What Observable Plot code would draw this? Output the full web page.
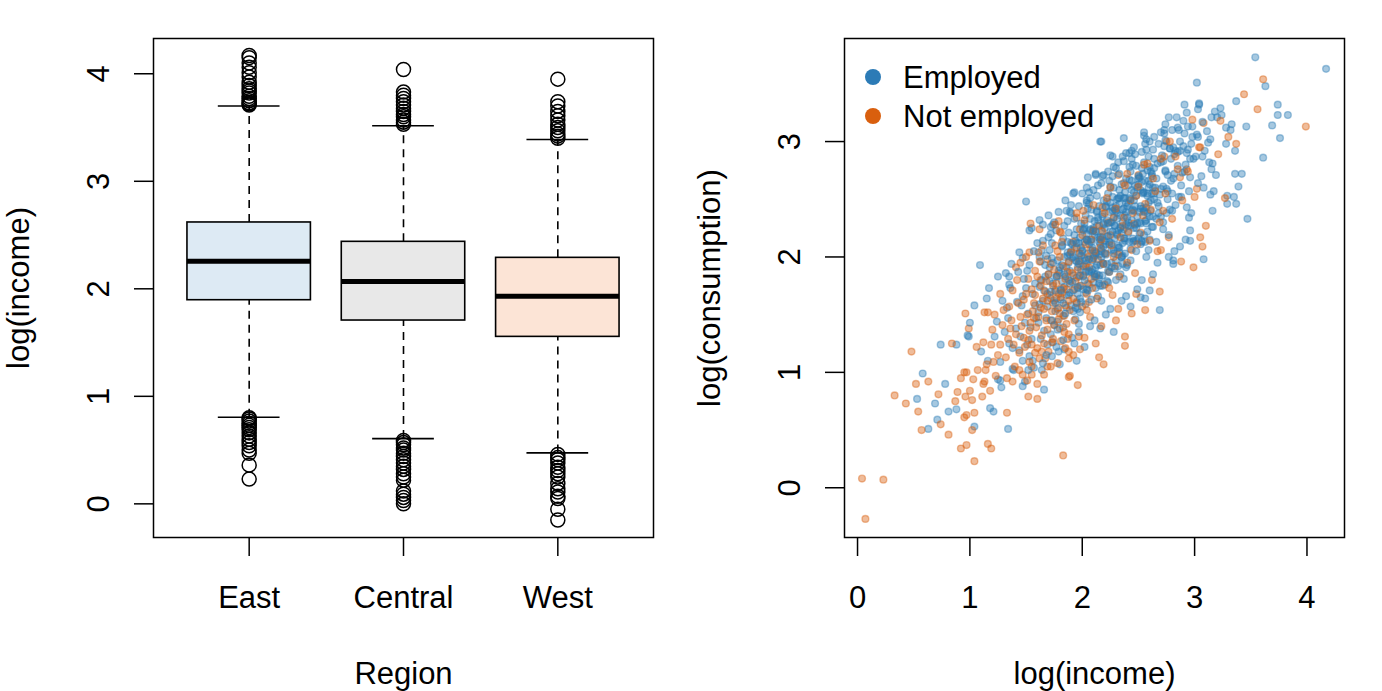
<!DOCTYPE html>
<html><head><meta charset="utf-8">
<script src="https://cdn.jsdelivr.net/npm/d3@7"></script>
<script src="https://cdn.jsdelivr.net/npm/@observablehq/plot@0.6"></script>
<style>
body{margin:0;background:#fff;}
#wrap{position:relative;width:1382px;height:691px;font-family:"Liberation Sans",Arial,Helvetica,sans-serif;background:#fff;overflow:hidden}
#left,#right{position:absolute;top:0;}
#left{left:0}#right{left:691px}
.leg{position:absolute;font-size:31px;line-height:31px;white-space:nowrap;color:#000}
.dot{position:absolute;width:16px;height:16px;border-radius:50%}
</style></head><body>
<div id="wrap"><div id="left"></div><div id="right"></div></div>
<script>
// ---------- Box plot data ----------
const regions = ["East", "Central", "West"];
const boxFills = ["#DDEAF4", "#E8E8E8", "#FCE4D6"];
const q1 = [1.894, 1.705, 1.553];
const medians = [2.257, 2.068, 1.931];
const q3 = [2.617, 2.437, 2.288];
const whiskerLow = [0.806, 0.607, 0.474];
const whiskerHigh = [3.700, 3.516, 3.389];
const outliersEast = [3.71,3.72,3.73,3.75,3.77,3.79,3.82,3.84,3.86,3.89,3.92,3.97,4.01,4.06,4.10,4.15,4.17,
  0.80,0.79,0.77,0.75,0.73,0.71,0.69,0.66,0.63,0.60,0.57,0.54,0.50,0.47,0.36,0.23];
const outliersCentral = [3.53,3.55,3.57,3.60,3.62,3.65,3.68,3.71,3.74,3.77,3.80,3.83,4.04,
  0.59,0.57,0.55,0.52,0.50,0.47,0.44,0.41,0.38,0.35,0.32,0.28,0.25,0.22,0.12,0.09,0.06,0.03,0.00];
const outliersWest = [3.40,3.42,3.44,3.47,3.50,3.53,3.57,3.61,3.65,3.70,3.74,3.95,
  0.46,0.43,0.41,0.38,0.34,0.31,0.28,0.25,0.19,0.14,0.11,0.07,0.05,-0.05,-0.15];
const boxYTicks = [0, 1, 2, 3, 4];

// ---------- Scatter data ----------
const groups = ["Employed", "Not employed"];
const groupColors = ["#2C7BB6", "#D95F0E"];
const scatterXTicks = [0, 1, 2, 3, 4];
const scatterYTicks = [0, 1, 2, 3];

const employed = [
[0.58,0.99],[0.53,0.77],[0.63,0.51],[0.71,0.59],[0.69,0.73],[0.78,0.90],[0.81,0.66],[0.88,0.68],[0.74,1.24],[0.88,1.24],
[1.04,0.53],[1.18,0.69],[1.21,0.66],[1.34,0.51],[1.66,0.85],[1.04,1.58],[0.99,1.31],[1.15,1.64],[1.10,1.18],[1.16,1.10],
[1.27,0.93],[1.28,0.87],[1.25,0.94],[1.35,1.25],[1.38,1.03],[1.47,0.88],[1.49,0.92],
[1.09,1.93],[1.50,2.48],[1.44,2.04],[1.25,1.83],[1.32,1.86],[1.35,1.83],[1.37,1.94],[1.53,2.23],[1.62,2.32],[1.70,2.36],
[1.79,2.39],[1.89,2.39],[1.92,2.55],[2.04,2.49],[2.06,2.46],[2.16,3.00],[2.12,2.72],[1.74,2.28],[1.55,2.25],[1.65,2.14],
[1.72,2.20],[1.71,2.06],[1.62,2.00],[1.51,1.88],[1.35,1.76],[1.17,1.73],
[3.54,3.73],[4.17,3.63],[3.02,3.51],[3.63,3.48],[2.91,3.32],[3.04,3.32],[3.03,3.28],[3.23,3.29],[3.24,3.23],[3.37,3.35],
[3.15,3.21],[3.20,3.21],[3.33,3.15],[3.46,3.13],[3.74,3.32],[3.74,3.23],[3.83,3.23],[3.69,3.14],[3.76,3.03],[3.61,2.86],
[3.47,2.33],[3.42,2.72],[3.36,2.72],[3.39,2.61],[3.35,2.52],[3.37,2.46],[3.29,2.46],[3.36,2.92],[3.28,2.98],[3.28,3.12],
[3.32,3.10],[3.11,3.09],[3.14,3.02],[2.98,3.04],[3.03,3.04],[2.86,3.10],[2.80,3.10],[2.73,3.07],[2.55,3.08],[2.55,3.05],
[2.37,3.03],[2.17,3.00],[2.27,2.87],[2.36,2.87],[2.44,2.92],[2.57,2.93],[2.81,2.95],[2.87,2.92],[2.93,2.90],[2.96,2.85],
[3.07,2.87],[3.16,2.81],[3.19,2.71],[2.12,2.71],[2.23,2.74],[2.42,2.78],[2.64,2.85],[2.60,2.78],[2.72,2.83],[3.29,2.53],
[3.14,2.54],[3.08,2.60],[3.16,2.40],[3.08,1.98],[2.87,2.09],[2.81,1.94],[2.96,2.23],[2.95,2.34],[2.93,2.43],
[1.93,2.56],[2.69,1.54],[2.28,1.35],[2.96,2.14],[2.81,1.97],[2.56,1.64],[2.52,1.65],[2.60,1.71],[2.43,1.57],[2.16,1.38],
[2.02,1.22],[1.95,1.10],[1.00,1.43],[0.98,1.32],
[1.56,1.10],[1.64,1.02],[1.73,1.14],[1.84,1.20],[1.91,1.30],[1.47,1.10],[1.80,1.07],[1.69,1.24],
[1.22,1.31],[1.27,1.09],[1.34,1.47],[1.29,1.62],[1.38,1.21],[1.24,1.44],[1.36,1.73],[1.31,1.35],[1.39,1.02],[1.33,1.56],
[1.41,1.38],[1.47,1.66],[1.44,1.19],[1.52,1.51],[1.58,1.77],[1.43,1.87],[1.55,1.29],[1.49,1.43],[1.57,1.04],[1.46,1.58],
[1.53,1.93],[1.59,1.47],[1.42,1.61],[1.51,1.24],[1.56,1.68],[1.48,1.81],[1.54,1.39],[1.45,1.31],[1.58,1.58],[1.50,1.73],
[1.53,1.14],[1.47,1.99],
[1.61,1.52],[1.67,1.83],[1.63,1.29],[1.72,1.64],[1.78,1.97],[1.64,2.06],[1.75,1.41],[1.69,1.57],[1.77,1.22],[1.62,1.74],
[1.73,2.12],[1.79,1.68],[1.66,1.36],[1.71,1.91],[1.76,1.53],[1.68,2.01],[1.74,1.77],[1.65,1.62],[1.78,1.44],[1.70,1.85],
[1.63,1.96],[1.77,2.23],[1.72,1.33],[1.66,1.71],[1.79,1.88],[1.61,1.43],[1.75,1.62],[1.68,1.47],[1.73,1.99],[1.64,1.80],
[1.76,1.71],[1.70,2.17],[1.62,1.59],[1.78,1.55],[1.67,1.93],[1.74,1.26],[1.69,1.68],[1.71,1.79],[1.65,2.28],[1.77,1.83],
[1.81,1.72],[1.87,2.04],[1.83,1.49],[1.92,1.84],[1.98,2.17],[1.84,2.27],[1.95,1.61],[1.89,1.77],[1.97,1.42],[1.82,1.93],
[1.93,2.33],[1.99,1.89],[1.86,1.56],[1.91,2.11],[1.96,1.73],[1.88,2.21],[1.94,1.97],[1.85,1.83],[1.98,1.64],[1.90,2.05],
[1.83,2.16],[1.97,2.44],[1.92,1.53],[1.86,1.91],[1.99,2.08],[1.81,1.63],[1.95,1.82],[1.88,1.67],[1.93,2.19],[1.84,2.00],
[1.96,1.91],[1.90,2.38],[1.82,1.79],[1.98,1.75],[1.87,2.13],[1.94,1.46],[1.89,1.88],[1.91,1.99],[1.85,2.49],[1.97,2.03],
[1.80,1.86],[1.86,1.67],[1.93,2.07],[1.99,2.29],[1.84,1.74],[1.90,1.58],[1.95,2.24],[1.88,1.95],[1.82,2.09],[1.96,1.55],
[1.92,1.71],[1.87,2.31],[1.98,1.97],[1.83,1.39],[1.94,2.14],[1.89,2.02],
[2.01,1.92],[2.07,2.24],[2.03,1.69],[2.12,2.04],[2.18,2.37],[2.04,2.47],[2.15,1.81],[2.09,1.97],[2.17,1.62],[2.02,2.13],
[2.13,2.53],[2.19,2.09],[2.06,1.76],[2.11,2.31],[2.16,1.93],[2.08,2.41],[2.14,2.17],[2.05,2.03],[2.18,1.84],[2.10,2.25],
[2.03,2.36],[2.17,2.64],[2.12,1.73],[2.06,2.11],[2.19,2.28],[2.01,1.83],[2.15,2.02],[2.08,1.87],[2.13,2.39],[2.04,2.20],
[2.16,2.11],[2.10,2.58],[2.02,1.99],[2.18,1.95],[2.07,2.33],[2.14,1.66],[2.09,2.08],[2.11,2.19],[2.05,2.69],[2.17,2.23],
[2.00,2.06],[2.06,1.87],[2.13,2.27],[2.19,2.49],[2.04,1.94],[2.10,1.78],[2.15,2.44],[2.08,2.15],[2.02,2.29],[2.16,1.75],
[2.12,1.91],[2.07,2.51],[2.18,2.17],[2.03,1.59],[2.14,2.34],[2.09,2.22],[2.11,2.01],[2.05,2.42],[2.17,2.05],[2.01,2.24],
[2.13,1.85],[2.19,2.71],[2.06,2.56],[2.15,2.13],
[2.21,2.11],[2.27,2.43],[2.23,1.88],[2.32,2.23],[2.38,2.56],[2.24,2.66],[2.35,2.00],[2.29,2.16],[2.37,1.81],[2.22,2.32],
[2.33,2.72],[2.39,2.28],[2.26,1.95],[2.31,2.50],[2.36,2.12],[2.28,2.60],[2.34,2.36],[2.25,2.22],[2.38,2.03],[2.30,2.44],
[2.23,2.55],[2.37,2.83],[2.32,1.92],[2.26,2.30],[2.39,2.47],[2.21,2.02],[2.35,2.21],[2.28,2.06],[2.33,2.58],[2.24,2.39],
[2.36,2.30],[2.30,2.77],[2.22,2.18],[2.38,2.14],[2.27,2.52],[2.34,1.85],[2.29,2.27],[2.31,2.38],[2.25,2.88],[2.37,2.42],
[2.20,2.25],[2.26,2.06],[2.33,2.46],[2.39,2.68],[2.24,2.13],[2.30,1.97],[2.35,2.63],[2.28,2.34],[2.22,2.48],[2.36,1.94],
[2.32,2.10],[2.27,2.70],[2.38,2.36],[2.23,1.78],[2.34,2.53],[2.29,2.41],[2.31,2.20],[2.25,2.61],[2.37,2.24],[2.21,2.43],
[2.33,2.04],[2.39,2.90],
[2.41,2.30],[2.47,2.62],[2.43,2.07],[2.52,2.42],[2.58,2.75],[2.44,2.85],[2.55,2.19],[2.49,2.35],[2.57,2.00],[2.42,2.51],
[2.53,2.91],[2.59,2.47],[2.46,2.14],[2.51,2.69],[2.56,2.31],[2.48,2.79],[2.54,2.55],[2.45,2.41],[2.58,2.22],[2.50,2.63],
[2.43,2.74],[2.57,3.02],[2.52,2.11],[2.46,2.49],[2.59,2.66],[2.41,2.21],[2.55,2.40],[2.48,2.25],[2.53,2.77],[2.44,2.58],
[2.40,2.44],[2.46,2.25],[2.53,2.65],[2.59,2.87],[2.44,2.32],[2.50,2.16],[2.55,2.82],[2.48,2.53],[2.42,2.67],[2.56,2.13],
[2.52,2.29],[2.47,2.89],[2.58,2.55],[2.43,1.97],[2.54,2.72],[2.49,2.60],[2.51,2.39],[2.45,2.80],[2.57,2.43],[2.41,2.62],
[2.61,2.49],[2.67,2.81],[2.63,2.26],[2.72,2.61],[2.78,2.94],[2.64,3.04],[2.75,2.38],[2.69,2.54],[2.77,2.19],[2.62,2.70],
[2.73,3.10],[2.79,2.66],[2.66,2.33],[2.71,2.88],[2.76,2.50],[2.68,2.98],[2.74,2.74],[2.65,2.60],[2.78,2.41],[2.70,2.82],
[2.63,2.93],[2.77,3.21],[2.72,2.30],[2.66,2.68],[2.79,2.85],[2.61,2.40],[2.75,2.59],[2.68,2.44],[2.73,2.96],[2.64,2.77],
[2.60,2.63],[2.70,2.35],[2.76,2.71],[2.62,2.55],[2.74,3.01],[2.67,2.47],
[2.81,2.68],[2.87,3.00],[2.83,2.45],[2.92,2.80],[2.98,3.13],[2.84,3.21],[2.95,2.57],[2.89,2.73],[2.97,2.38],[2.82,2.89],
[2.93,3.25],[2.99,2.85],[2.86,2.52],[2.91,3.07],[2.96,2.69],[2.88,2.62],[2.94,2.93],[2.85,2.79],[2.80,2.55],[2.90,2.96],
[2.97,2.98],[2.83,2.92],
[3.01,2.87],[3.07,3.17],[3.03,2.64],[3.12,2.99],[3.18,3.26],[3.04,3.33],[3.15,2.76],[3.09,2.92],[3.17,2.57],[3.02,3.06],
[3.13,2.82],[3.06,2.70],
[1.72,1.70],[1.73,1.45],[1.74,1.95],[1.76,1.60],[1.77,1.83],[1.78,1.37],[1.80,1.91],[1.81,1.71],[1.82,2.10],[1.83,1.60],
[1.84,1.85],[1.85,1.51],[1.87,2.01],[1.88,1.80],[1.89,1.69],[1.90,2.12],[1.91,1.78],[1.92,2.00],[1.94,1.56],[1.95,2.12],
[1.96,1.74],[1.97,1.94],[1.98,1.52],[1.99,2.01],[2.01,1.72],[2.02,2.25],[2.03,1.87],[2.04,2.15],[2.05,1.71],[2.06,1.98],
[2.08,2.13],[2.09,1.89],[2.10,2.23],[2.11,1.83],[2.12,2.03],[2.13,2.40],[2.15,1.77],[2.16,2.15],[2.17,2.00],[2.18,2.35],
[2.19,1.94],[2.20,2.14],[2.22,1.79],[2.23,2.29],[2.24,2.11],[2.25,2.47],[2.26,1.91],[2.27,2.22],[2.29,1.90],[2.30,2.40],
[2.31,2.19],[2.32,2.08],[2.33,2.51],[2.34,2.26],[2.36,2.01],[2.37,2.51],[2.38,2.16],[2.39,2.39],[2.40,1.93],[2.41,2.46],
[2.43,2.27],[2.44,2.66],[2.45,2.16],[2.46,2.40],[2.47,2.44],[2.48,2.14],[2.50,2.68],[2.51,2.30],[2.52,2.58],[2.53,2.14],
[2.54,2.42],[2.55,2.56],[2.57,2.32],[2.58,2.38],[2.59,2.60],[2.60,2.15],[2.62,2.72],[2.63,2.35],[2.64,2.55],[2.66,2.13],
[2.68,2.38],[2.70,2.59],[2.72,2.24],[2.74,2.75],[2.76,2.57],[2.78,2.94],[2.80,2.40],[2.82,2.72],[2.85,2.91],[2.88,2.52],
[2.91,2.74],[2.94,3.13],
[1.95,1.96],[1.96,1.68],[1.97,2.12],[1.98,1.84],[1.99,1.61],[2.00,2.05],[2.01,2.23],[2.02,1.80],[2.03,1.97],[2.04,1.72],
[2.05,2.14],[2.06,1.88],[2.07,2.23],[2.08,1.63],[2.09,2.06],[2.10,1.99],[2.11,1.85],[2.12,2.22],[2.13,1.93],[2.14,2.32],
[2.15,1.84],[2.16,2.17],[2.17,2.07],[2.18,1.75],[2.19,2.29],[2.20,2.03],[2.21,2.44],[2.22,1.94],[2.23,2.18],[2.24,1.87],
[2.25,2.30],[2.26,2.12],[2.27,2.40],[2.28,2.03],[2.29,2.27],[2.30,1.80],[2.31,2.33],[2.32,2.51],[2.33,2.08],[2.34,2.25],
[2.35,2.00],[2.36,2.41],[2.37,2.16],[2.38,2.51],[2.39,1.91],[2.40,2.34],[2.41,2.27],[2.42,2.13],[2.43,2.50],[2.44,2.40],
[2.45,2.13],[2.46,2.56],[2.47,2.28],[2.48,2.05],[2.49,2.29],[2.50,2.70],[2.51,2.20],[2.52,2.44],[2.53,2.13],[2.54,2.56],
[2.55,2.39],[2.56,2.66],[2.57,2.29],[2.58,2.53],[2.59,2.06],[2.60,2.35],[2.61,2.74],[2.62,2.26],[2.63,2.60],[2.64,2.50],
[1.52,1.02],[1.60,2.12],[1.68,1.15],[1.75,2.30],[1.83,1.28],[1.90,2.45],[1.97,1.35],[2.04,2.60],[2.11,1.45],[2.18,2.70],
[2.25,1.55],[2.32,2.82],[2.39,1.66],[2.46,2.95],[2.53,1.80],[2.60,3.00],[2.67,1.95],[2.74,3.15],[2.82,2.05],[2.90,3.18],
[1.57,2.05],[1.65,1.08],[1.72,2.26],[1.79,1.18],[1.86,2.40],[1.93,1.25],[2.00,2.55],[2.07,1.40],[2.14,2.62],[2.21,1.50],
[2.28,2.78],[2.35,1.62],[2.42,2.90],[2.49,1.72],[2.56,2.98],[2.63,1.85],[2.70,3.08],[2.77,2.00],[2.85,3.12],[2.92,2.15]
];

const notEmployed = [
[0.04,0.08],[0.23,0.07],[0.07,-0.27],[0.48,1.18],[0.33,0.80],[0.43,0.73],[0.52,0.90],[0.63,0.92],[0.54,0.66],[0.57,0.50],
[0.72,0.81],[0.74,0.55],[0.81,0.46],[0.89,0.83],[0.87,0.75],[0.96,0.79],[1.00,0.84],[1.02,0.76],[0.95,0.61],[0.97,0.63],
[1.04,0.65],[1.02,0.50],[0.92,0.34],[0.97,0.37],[1.04,0.23],[1.16,0.38],[1.19,0.34],[1.11,0.79],[0.92,0.95],[0.97,1.00],
[1.03,0.94],[1.12,0.90],[1.13,0.92],[1.33,0.65],[1.83,0.28],[1.88,0.96],[1.96,0.89],[1.60,0.77],[1.52,0.79],[0.84,1.25],
[0.96,1.51],[0.99,1.38],[1.13,1.52],[1.06,1.22],[1.19,1.24],[1.27,1.68],[1.22,1.50],[1.15,1.07],[1.07,1.02],
[1.54,2.29],[1.62,2.24],[1.79,2.31],[1.41,1.91],[1.52,1.81],[1.53,2.04],[1.69,1.98],[1.95,2.34],[2.04,2.15],[1.63,1.80],
[3.61,3.54],[3.44,3.41],[3.56,3.28],[3.99,3.13],[3.08,3.16],[3.23,3.18],[3.30,3.04],[3.37,2.98],[3.21,2.89],[3.04,2.95],
[2.75,3.00],[2.73,2.87],[2.93,2.76],[3.27,2.51],[3.10,2.27],[3.05,2.17],[3.07,2.09],[2.99,1.91],[2.88,1.96],[2.77,2.17],
[2.70,2.06],[2.50,2.71],[2.32,2.71],[2.37,2.64],[3.02,2.59],[2.87,2.69],
[2.69,1.70],[2.56,1.54],[2.44,1.51],[2.38,1.31],[2.38,1.23],[2.19,1.07],[2.15,1.13],[1.89,0.97],[0.95,1.00],
[1.55,1.05],[1.62,1.12],[1.70,1.18],[1.78,1.08],[1.85,1.21],[1.92,1.15],[1.66,0.98],[1.74,1.29],[1.58,1.17],[1.81,1.27],
[1.97,1.31],[1.88,1.12],[1.44,1.02],[1.51,0.93],[1.69,1.05],
[1.14,1.02],[1.20,1.37],[1.25,1.15],[1.18,0.84],[1.29,1.41],[1.12,1.26],[1.23,0.97],[1.16,1.52],[1.27,1.24],[1.21,1.09],
[1.34,1.29],[1.40,1.05],[1.45,1.48],[1.38,1.71],[1.49,1.22],[1.32,1.13],[1.43,1.60],[1.36,1.38],[1.47,0.98],[1.41,1.33],
[1.30,1.54],[1.44,1.17],[1.37,1.45],[1.48,1.63],[1.33,0.95],[1.46,1.40],[1.39,1.24],[1.42,1.80],[1.35,1.57],[1.48,1.30],
[1.54,1.43],[1.60,1.21],[1.65,1.64],[1.58,1.88],[1.69,1.37],[1.52,1.28],[1.63,1.75],[1.56,1.53],[1.67,1.12],[1.61,1.48],
[1.50,1.68],[1.64,1.32],[1.57,1.60],[1.68,1.79],[1.53,1.09],[1.66,1.55],[1.59,1.39],[1.62,1.96],[1.55,1.72],[1.68,1.45],
[1.51,1.50],[1.64,1.18],[1.58,1.67],[1.60,1.83],[1.66,1.25],[1.53,1.36],[1.69,1.62],[1.57,1.47],[1.63,1.56],[1.61,2.04],
[1.55,1.24],[1.67,1.70],
[1.74,1.60],[1.80,1.38],[1.85,1.81],[1.78,2.05],[1.89,1.54],[1.72,1.45],[1.83,1.92],[1.76,1.70],[1.87,1.29],[1.81,1.65],
[1.70,1.85],[1.84,1.49],[1.77,1.77],[1.88,1.96],[1.73,1.26],[1.86,1.72],[1.79,1.56],[1.82,2.13],[1.75,1.89],[1.88,1.62],
[1.71,1.67],[1.84,1.35],[1.78,1.84],[1.80,2.00],[1.86,1.42],[1.73,1.53],[1.89,1.79],[1.77,1.64],[1.83,1.73],[1.81,2.21],
[1.75,1.41],[1.87,1.87],[1.72,1.94],[1.85,1.58],[1.79,1.46],[1.76,2.10],[1.82,1.69],[1.88,1.33],[1.74,1.75],[1.80,1.51],
[1.94,1.79],[2.00,1.57],[2.05,2.00],[1.98,2.24],[2.09,1.73],[1.92,1.64],[2.03,2.11],[1.96,1.89],[2.07,1.48],[2.01,1.84],
[1.90,2.04],[2.04,1.68],[1.97,1.96],[2.08,2.15],[1.93,1.45],[2.06,1.91],[1.99,1.75],[2.02,2.32],[1.95,2.08],[2.08,1.81],
[1.91,1.86],[2.04,1.54],[1.98,2.03],[2.00,2.19],[2.06,1.61],[1.93,1.72],[2.09,1.98],[1.97,1.83],[2.03,1.92],[2.01,2.40],
[1.95,1.60],[2.07,2.06],[1.92,2.13],[2.05,1.77],
[2.14,1.98],[2.20,1.76],[2.25,2.19],[2.18,2.43],[2.29,1.92],[2.12,1.83],[2.23,2.30],[2.16,2.08],[2.27,1.67],[2.21,2.03],
[2.10,2.23],[2.24,1.87],[2.17,2.15],[2.28,2.34],[2.13,1.64],[2.26,2.10],[2.19,1.94],[2.22,2.51],[2.15,2.27],[2.28,2.00],
[2.11,2.05],[2.24,1.73],[2.18,2.22],[2.20,2.38],
[2.34,2.17],[2.40,1.95],[2.45,2.38],[2.38,2.62],[2.49,2.11],[2.32,2.02],[2.43,2.49],[2.36,2.27],[2.47,1.86],[2.41,2.22],
[2.30,2.42],[2.44,2.06],[2.37,2.34],[2.48,2.53],[2.33,1.83],[2.46,2.29],
[2.54,2.36],[2.60,2.14],[2.65,2.57],[2.58,2.81],[2.69,2.30],[2.52,2.21],[2.63,2.68],[2.56,2.46],[2.67,2.05],[2.61,2.41],
[2.50,2.61],
[2.74,2.55],[2.80,2.33],[2.85,2.76],[2.78,3.00],[2.89,2.49],[2.72,2.40],[2.83,2.87],
[2.94,2.74],[3.00,2.52],[3.05,2.95],[2.98,3.19],
[1.45,1.95],[1.55,0.98],[1.65,2.10],[1.72,1.05],[1.80,2.22],[1.88,1.18],[1.95,2.38],[2.02,1.30],[2.10,2.45],[2.17,1.40],
[2.25,2.60],[2.32,1.55],[2.40,2.72],[2.48,1.68],[2.55,2.80],[2.62,1.80],[2.70,2.85],[1.38,0.92],[1.50,2.00],[1.60,0.90],
[1.76,2.28],[1.98,1.20],[2.12,1.25],[2.30,1.45]
];

// ---------- Build tables ----------
const boxes = regions.map((r, i) => ({
  pos: i + 1, region: r, fill: boxFills[i],
  q1: q1[i], med: medians[i], q3: q3[i], lo: whiskerLow[i], hi: whiskerHigh[i]
}));
const outliers = [outliersEast, outliersCentral, outliersWest]
  .flatMap((arr, i) => arr.map(v => ({pos: i + 1, v})));

const tagged = [employed, notEmployed].map((arr, g) =>
  arr.map(([x, y], i) => ({x, y, group: groups[g], color: groupColors[g], order: (i + 0.5) / arr.length})));
const points = tagged.flat().sort((a, b) => a.order - b.order);

const FONT = '"Liberation Sans", Arial, Helvetica, sans-serif';
const FS = 31;
const common = {
  width: 691, height: 691,
  marginLeft: 153, marginRight: 38, marginTop: 38, marginBottom: 154,
  style: {fontFamily: FONT, fontSize: FS + "px", background: "white", color: "black"}
};
const LW = 1.6;
const intFmt = d => String(d);

const leftPlot = Plot.plot({
  ...common,
  x: {domain: [0.38, 3.62], axis: null},
  y: {domain: [-0.313, 4.328], axis: null},
  color: {type: "identity"},
  marks: [
    Plot.ruleX(boxes, {x: "pos", y1: "q3", y2: "hi", stroke: "black", strokeWidth: LW, strokeDasharray: "8,6"}),
    Plot.ruleX(boxes, {x: "pos", y1: "lo", y2: "q1", stroke: "black", strokeWidth: LW, strokeDasharray: "8,6"}),
    Plot.ruleY(boxes, {y: "hi", x1: d => d.pos - 0.2, x2: d => d.pos + 0.2, stroke: "black", strokeWidth: LW}),
    Plot.ruleY(boxes, {y: "lo", x1: d => d.pos - 0.2, x2: d => d.pos + 0.2, stroke: "black", strokeWidth: LW}),
    Plot.rect(boxes, {x1: d => d.pos - 0.4, x2: d => d.pos + 0.4, y1: "q1", y2: "q3", fill: "fill", stroke: "black", strokeWidth: LW}),
    Plot.ruleY(boxes, {y: "med", x1: d => d.pos - 0.4, x2: d => d.pos + 0.4, stroke: "black", strokeWidth: 5}),
    Plot.dot(outliers, {x: "pos", y: "v", r: 7, stroke: "black", strokeWidth: 1.5, fill: "none"}),
    Plot.frame({stroke: "black", strokeWidth: 1.5}),
    Plot.axisX([1, 2, 3], {tickSize: 19, tickPadding: 29, tickFormat: d => regions[d - 1], strokeWidth: 1.5, fontSize: FS, label: null}),
    Plot.axisY(boxYTicks, {tickSize: 19, tickPadding: 26, tickRotate: -90, tickFormat: intFmt, strokeWidth: 1.5, fontSize: FS, label: null}),
    Plot.text(["Region"], {text: d => d, frameAnchor: "bottom", dy: 146, lineAnchor: "bottom", fontSize: FS}),
    Plot.text(["log(income)"], {text: d => d, frameAnchor: "left", dx: -125, rotate: -90, textAnchor: "middle", lineAnchor: "bottom", fontSize: FS})
  ]
});

const rightPlot = Plot.plot({
  ...common,
  x: {domain: [-0.116, 4.334], axis: null},
  y: {domain: [-0.431, 3.893], axis: null},
  color: {type: "identity"},
  marks: [
    Plot.dot(points, {x: "x", y: "y", r: 3.4, fill: "color", stroke: "color", fillOpacity: 0.42, strokeOpacity: 0.42, strokeWidth: 1.4}),
    Plot.frame({stroke: "black", strokeWidth: 1.5}),
    Plot.axisX(scatterXTicks, {tickSize: 19, tickPadding: 29, tickFormat: intFmt, strokeWidth: 1.5, fontSize: FS, label: null}),
    Plot.axisY(scatterYTicks, {tickSize: 19, tickPadding: 26, tickRotate: -90, tickFormat: intFmt, strokeWidth: 1.5, fontSize: FS, label: null}),
    Plot.text(["log(income)"], {text: d => d, frameAnchor: "bottom", dy: 146, lineAnchor: "bottom", fontSize: FS}),
    Plot.text(["log(consumption)"], {text: d => d, frameAnchor: "left", dx: -125, rotate: -90, textAnchor: "middle", lineAnchor: "bottom", fontSize: FS})
  ]
});

document.getElementById("left").appendChild(leftPlot);
document.getElementById("right").appendChild(rightPlot);

// Legend (HTML), top-left inside the scatter frame
const wrap = document.getElementById("wrap");
groups.forEach((g, i) => {
  const dot = document.createElement("div");
  dot.className = "dot";
  dot.style.left = (873 - 8) + "px";
  dot.style.top = (77 + i * 38.5 - 8) + "px";
  dot.style.background = groupColors[i];
  wrap.appendChild(dot);
  const t = document.createElement("div");
  t.className = "leg";
  t.style.left = "903px";
  t.style.top = (62 + i * 39) + "px";
  t.textContent = g;
  wrap.appendChild(t);
});
</script>
</body></html>
